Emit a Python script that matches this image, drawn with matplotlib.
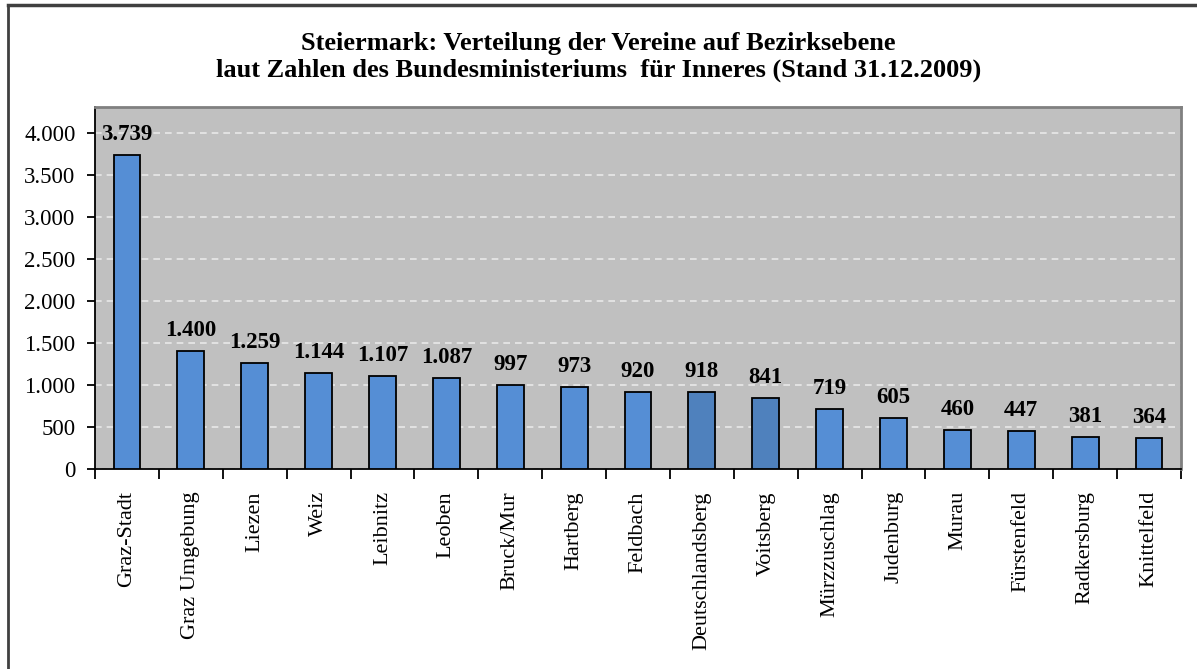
import matplotlib.pyplot as plt
from matplotlib.lines import Line2D

bezirke = ['Graz-Stadt', 'Graz Umgebung', 'Liezen', 'Weiz', 'Leibnitz', 'Leoben',
           'Bruck/Mur', 'Hartberg', 'Feldbach', 'Deutschlandsberg', 'Voitsberg',
           'Mürzzuschlag', 'Judenburg', 'Murau', 'Fürstenfeld', 'Radkersburg',
           'Knittelfeld']
vereine = [3739, 1400, 1259, 1144, 1107, 1087, 997, 973, 920, 918, 841,
           719, 605, 460, 447, 381, 364]
yticks = [0, 500, 1000, 1500, 2000, 2500, 3000, 3500, 4000]

title = ('Steiermark: Verteilung der Vereine auf Bezirksebene\n'
         'laut Zahlen des Bundesministeriums  für Inneres (Stand 31.12.2009)')

plt.rcParams['font.family'] = ['Liberation Serif', 'DejaVu Serif']

fig = plt.figure(figsize=(11.97, 6.69), dpi=100)
ax = fig.add_axes([95 / 1197, 1 - 469 / 669, (1181 - 95) / 1197, (469 - 107) / 669])

colors = ['#558ED5'] * len(bezirke)
colors[9] = '#4F81BD'
colors[10] = '#4F81BD'

x = range(len(bezirke))
bars = ax.bar(x, vereine, width=0.42, color=colors, edgecolor='black', linewidth=1.3, zorder=3)

def de_fmt(v):
    return f'{v:,}'.replace(',', '.')

for i, v in enumerate(vereine):
    ax.text(i, v + 120, de_fmt(v), ha='center', va='bottom', fontsize=16.5,
            fontweight='bold', color='black')

ax.set_facecolor('#C0C0C0')
ax.set_xlim(-0.5, len(bezirke) - 0.5)
ax.set_ylim(0, 4310)
ax.set_yticks(yticks)
ax.set_yticklabels([de_fmt(t) for t in yticks], fontsize=16.5)
ax.yaxis.grid(True, color='#E8E8E8', linestyle=(0, (4, 3)), linewidth=1.2, zorder=0)

ax.set_xticks(list(x))
ax.set_xticklabels(bezirke, rotation=90, fontsize=16, va='top')
ax.tick_params(axis='x', length=0, pad=16)
ax.set_xticks([i - 0.5 for i in range(len(bezirke) + 1)], minor=True)
ax.tick_params(axis='x', which='minor', length=7, width=1.3, direction='out')
ax.tick_params(axis='y', length=6, width=1.3, direction='out', pad=8)

ax.spines['left'].set_color('black')
ax.spines['left'].set_linewidth(1.3)
ax.spines['bottom'].set_color('black')
ax.spines['bottom'].set_linewidth(1.3)
ax.spines['top'].set_color('#808080')
ax.spines['top'].set_linewidth(2)
ax.spines['right'].set_color('#808080')
ax.spines['right'].set_linewidth(2)

fig.text(0.5, 1 - 57 / 669, title, ha='center', va='center', fontsize=19,
         fontweight='bold', linespacing=1.15)

# outer chart frame
fig.add_artist(Line2D([8 / 1197, 8 / 1197], [0, 1 - 5 / 669], transform=fig.transFigure,
                      color='#404040', linewidth=2))
fig.add_artist(Line2D([8 / 1197, 1], [1 - 5 / 669, 1 - 5 / 669], transform=fig.transFigure,
                      color='#404040', linewidth=2.5))

fig.savefig('out.png', dpi=100)
